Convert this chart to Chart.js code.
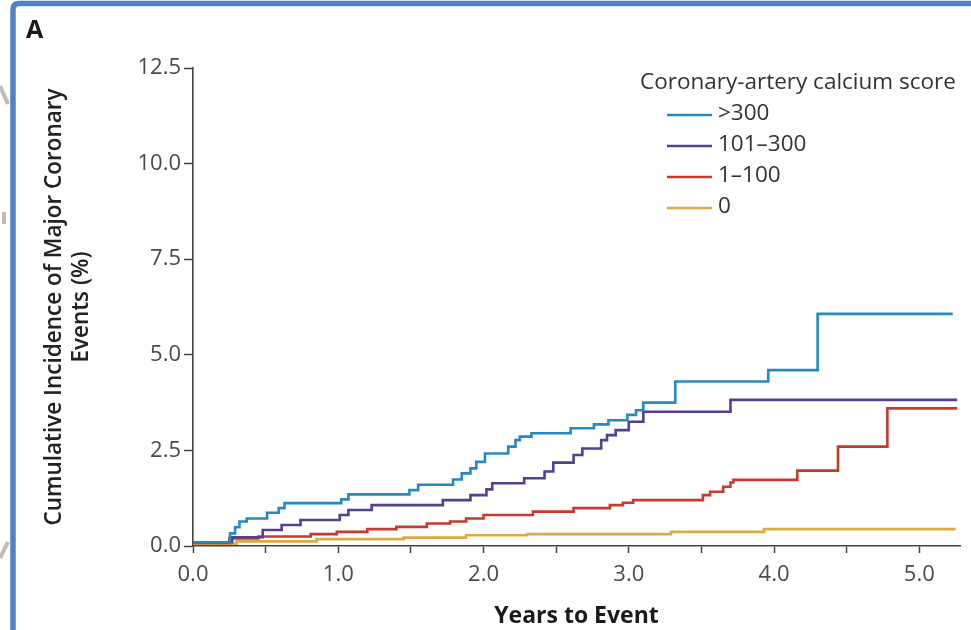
<!DOCTYPE html>
<html>
<head>
<meta charset="utf-8">
<script src="https://cdn.jsdelivr.net/npm/chart.js@4"></script>
<style>
  html, body { margin: 0; padding: 0; background: #ffffff; }
  #wrap { width: 971px; height: 630px; position: relative; }
</style>
</head>
<body>
<div id="wrap"><canvas id="c" width="971" height="630"></canvas></div>
<script>
// ---- Data ----
const seriesLabels = ['>300', '101\u2013300', '1\u2013100', '0'];
const legendTitle = 'Coronary-artery calcium score';
const panelLabel = 'A';

const timesGt300 = [0, 0.255, 0.29, 0.32, 0.37, 0.51, 0.59, 0.63, 1.02, 1.07, 1.49, 1.55, 1.79, 1.85, 1.91, 1.95, 2.01, 2.17, 2.22, 2.25, 2.33, 2.60, 2.76, 2.86, 2.99, 3.05, 3.10, 3.32, 3.96, 4.30, 5.23];
const incGt300   = [0.1, 0.33, 0.49, 0.64, 0.72, 0.87, 0.99, 1.12, 1.22, 1.35, 1.46, 1.60, 1.74, 1.90, 2.03, 2.20, 2.42, 2.60, 2.77, 2.86, 2.95, 3.08, 3.18, 3.29, 3.43, 3.55, 3.75, 4.30, 4.60, 6.07, 6.07];

const times101to300 = [0, 0.27, 0.48, 0.61, 0.74, 1.01, 1.07, 1.23, 1.72, 1.91, 2.02, 2.06, 2.28, 2.42, 2.48, 2.62, 2.68, 2.81, 2.85, 2.91, 3.00, 3.10, 3.70, 5.26];
const inc101to300   = [0.1, 0.23, 0.42, 0.55, 0.68, 0.81, 0.94, 1.07, 1.20, 1.33, 1.48, 1.64, 1.77, 1.95, 2.18, 2.38, 2.55, 2.77, 2.90, 3.03, 3.25, 3.51, 3.82, 3.82];

const times1to100 = [0, 0.25, 0.45, 0.81, 0.99, 1.20, 1.40, 1.61, 1.77, 1.88, 2.00, 2.34, 2.62, 2.87, 2.96, 3.03, 3.51, 3.56, 3.65, 3.70, 3.72, 4.16, 4.44, 4.78, 5.26];
const inc1to100   = [0.08, 0.20, 0.25, 0.31, 0.37, 0.44, 0.50, 0.59, 0.64, 0.72, 0.81, 0.90, 0.99, 1.07, 1.13, 1.20, 1.33, 1.42, 1.55, 1.66, 1.73, 1.97, 2.60, 3.60, 3.60];

const timesZero = [0, 0.30, 0.85, 1.45, 1.88, 2.30, 3.29, 3.93, 5.25];
const incZero   = [0.06, 0.12, 0.18, 0.22, 0.28, 0.31, 0.37, 0.44, 0.44];

const xTickValues = [0, 1, 2, 3, 4, 5];
const yTickValues = [0, 2.5, 5, 7.5, 10, 12.5];

// ---- Styles ----
const colors = ['#2789bd', '#553f8f', '#c83a30', '#dcaa45'];
const FONT = "'Open Sans', 'Noto Sans', sans-serif";

function toPoints(ts, vs) { return ts.map((t, i) => ({ x: t, y: vs[i] })); }

const seriesData = [
  toPoints(timesGt300, incGt300),
  toPoints(times101to300, inc101to300),
  toPoints(times1to100, inc1to100),
  toPoints(timesZero, incZero)
];

const datasets = seriesData.map((d, i) => ({
  label: seriesLabels[i],
  data: d,
  borderColor: colors[i],
  backgroundColor: colors[i],
  borderWidth: 2.6,
  stepped: true,
  pointRadius: 0,
  fill: false,
  tension: 0
}));

const decorPlugin = {
  id: 'decor',
  beforeDraw(chart) {
    const ctx = chart.ctx;
    ctx.save();
    ctx.fillStyle = '#ffffff';
    ctx.fillRect(0, 0, chart.width, chart.height);
    ctx.restore();
  },
  afterDraw(chart) {
    const ctx = chart.ctx;
    ctx.save();
    // faint grey marks outside the frame
    ctx.strokeStyle = '#bdbdbd';
    ctx.lineWidth = 4;
    ctx.beginPath();
    ctx.moveTo(0, 86); ctx.lineTo(8, 104);
    ctx.moveTo(4, 212); ctx.lineTo(4, 224);
    ctx.moveTo(0, 558); ctx.lineTo(8, 542);
    ctx.stroke();

    // blue frame (top and left)
    ctx.strokeStyle = '#4f82c4';
    ctx.lineWidth = 5.5;
    ctx.beginPath();
    ctx.moveTo(13, 640);
    ctx.lineTo(13, 10);
    ctx.quadraticCurveTo(13, 3.5, 19, 3.5);
    ctx.lineTo(975, 3.5);
    ctx.stroke();

    // panel label
    ctx.fillStyle = '#1a1a1a';
    ctx.font = "bold 25px " + FONT;
    ctx.textBaseline = 'alphabetic';
    ctx.textAlign = 'left';
    ctx.fillText(panelLabel, 26, 38);

    // legend
    ctx.fillStyle = '#333333';
    ctx.font = "22.5px " + FONT;
    ctx.textBaseline = 'middle';
    ctx.fillText(legendTitle, 640, 83);
    chart.data.datasets.forEach((ds, i) => {
      const y = 115 + i * 31;
      ctx.strokeStyle = ds.borderColor;
      ctx.lineWidth = 2.6;
      ctx.beginPath();
      ctx.moveTo(667, y);
      ctx.lineTo(712, y);
      ctx.stroke();
      ctx.fillStyle = '#333333';
      ctx.fillText(ds.label, 718, y - 1);
    });
    ctx.restore();
  }
};

new Chart(document.getElementById('c'), {
  type: 'line',
  data: { datasets },
  options: {
    responsive: false,
    animation: false,
    events: [],
    layout: { padding: { left: 0, right: 11, top: 68, bottom: 0 } },
    plugins: { legend: { display: false }, tooltip: { enabled: false } },
    scales: {
      x: {
        type: 'linear',
        min: 0,
        max: 5.28,
        afterFit(scale) { scale.height = 84; },
        ticks: {
          stepSize: 0.5,
          includeBounds: false,
          autoSkip: false,
          maxRotation: 0,
          padding: 9,
          color: '#4a4a4a',
          font: { family: FONT, size: 22 },
          callback: (v) => xTickValues.includes(v) ? v.toFixed(1) : ''
        },
        grid: { drawOnChartArea: false, drawTicks: true, tickLength: 7, tickColor: '#444', tickWidth: 1.5 },
        border: { display: true, color: '#444', width: 1.6 },
        title: {
          display: true,
          text: 'Years to Event',
          color: '#1a1a1a',
          font: { family: FONT, size: 23, weight: 'bold' },
          padding: { top: 0, bottom: 0 }
        }
      },
      y: {
        type: 'linear',
        min: 0,
        max: 12.5,
        afterFit(scale) { scale.width = 193; },
        ticks: {
          stepSize: 2.5,
          padding: 3,
          color: '#4a4a4a',
          font: { family: FONT, size: 22 },
          callback: (v) => yTickValues.includes(v) ? v.toFixed(1) : ''
        },
        grid: { drawOnChartArea: false, drawTicks: true, tickLength: 9, tickColor: '#444', tickWidth: 1.5 },
        border: { display: true, color: '#444', width: 1.6 },
        title: {
          display: true,
          text: ['Cumulative Incidence of Major Coronary', 'Events (%)'],
          color: '#222',
          font: { family: FONT, size: 22.5, weight: '600', lineHeight: 1.2 },
          padding: { top: 41, bottom: 0 }
        }
      }
    }
  },
  plugins: [decorPlugin]
});
</script>
</body>
</html>
